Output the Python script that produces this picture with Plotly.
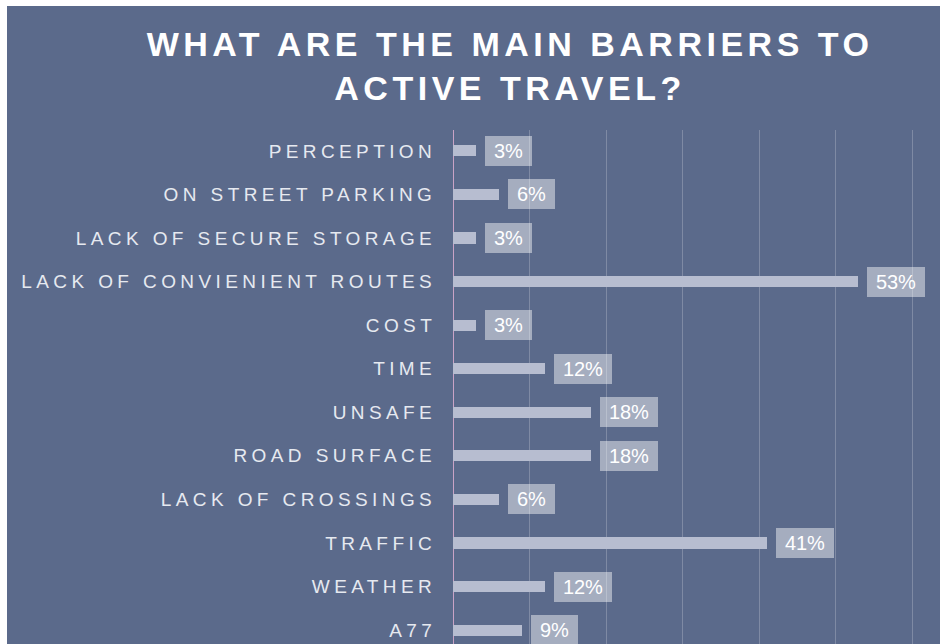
import plotly.graph_objects as go

categories = [
    "PERCEPTION",
    "ON STREET PARKING",
    "LACK OF SECURE STORAGE",
    "LACK OF CONVIENIENT ROUTES",
    "COST",
    "TIME",
    "UNSAFE",
    "ROAD SURFACE",
    "LACK OF CROSSINGS",
    "TRAFFIC",
    "WEATHER",
    "A77",
]
values = [3, 6, 3, 53, 3, 12, 18, 18, 6, 41, 12, 9]
label_suffix = "%"

BG = "#5b6a8b"
BAR = "#b7bdd0"
W, H = 946, 644
L, R, T, B = 453, 11, 130, 0

fig = go.Figure()
fig.add_trace(go.Bar(
    x=values,
    y=list(range(len(categories))),
    orientation="h",
    width=0.255,
    marker=dict(color=BAR, line=dict(width=0)),
    hoverinfo="skip",
))

annotations = []
for i, v in enumerate(values):
    txt = f"{v}{label_suffix}"
    annotations.append(dict(
        x=v, y=i, xref="x", yref="y",
        text=txt, showarrow=False,
        xanchor="left", yanchor="middle", xshift=9,
        font=dict(family="Liberation Sans, Arial, sans-serif", size=20, color="#ffffff"),
        bgcolor="rgba(255,255,255,0.45)",
        borderpad=3, borderwidth=0,
        width=11 * len(txt) + 19, height=24,
        align="center", valign="middle",
    ))

fig.update_layout(
    width=W, height=H,
    paper_bgcolor="#ffffff",
    plot_bgcolor=BG,
    margin=dict(l=L, r=R, t=T, b=B, pad=0),
    showlegend=False,
    bargap=0,
    title=dict(
        text="WHAT ARE THE MAIN BARRIERS TO<br>ACTIVE TRAVEL?",
        x=510 / W, xanchor="center", xref="container",
        y=1 - 56 / H, yanchor="top", yref="container",
        font=dict(family="Liberation Sans, Arial, sans-serif", size=34, color="#ffffff", weight="bold"),
    ),
    xaxis=dict(
        range=[0, 63], dtick=10, tick0=0,
        showgrid=True, gridcolor="rgba(255,255,255,0.22)", gridwidth=1,
        zeroline=True, zerolinecolor="#c9a3c6", zerolinewidth=1,
        showticklabels=False, ticks="", showline=False,
        fixedrange=True,
    ),
    yaxis=dict(
        range=[11.32, -0.48],
        tickmode="array",
        tickvals=list(range(len(categories))),
        ticktext=categories,
        ticks="outside", ticklen=12, tickcolor="rgba(0,0,0,0)",
        tickfont=dict(family="Liberation Sans, Arial, sans-serif", size=19, color="#e6e9f0"),
        showgrid=False, zeroline=False, showline=False,
        fixedrange=True,
    ),
    annotations=annotations,
    shapes=[
        dict(type="rect", xref="paper", yref="paper",
             x0=-(L - 7) / (W - L - R), x1=1 + (R - 6) / (W - L - R),
             y0=-0.01, y1=1 + (T - 6) / (H - T - B),
             fillcolor=BG, line=dict(width=0), layer="below"),
    ],
)

css = ("html,body{margin:0;padding:0;overflow:hidden;} "
       ".ytick text{letter-spacing:4.4px;} .gtitle{letter-spacing:4.5px;}")
post = ("var s=document.createElement('style');s.textContent='" + css +
        "';document.head.appendChild(s);")

fig.write_html("out.html", post_script=post, config={"displayModeBar": False})
